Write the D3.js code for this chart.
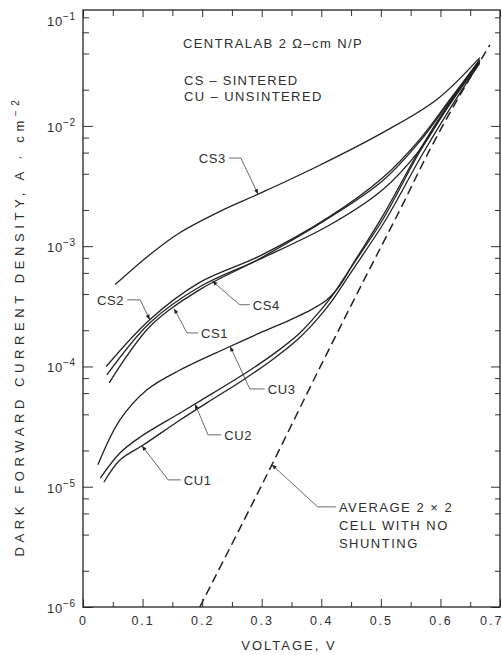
<!DOCTYPE html>
<meta charset="utf-8">
<script src="https://d3js.org/d3.v7.min.js"></script>
<style>
body { margin: 0; background: #fff; }
text { font-family: "Liberation Sans", Arial, sans-serif; fill: #2e2e2e; }
.curve { fill: none; stroke: #222; stroke-width: 1.3px; }
.leader { fill: none; stroke: #444; stroke-width: 0.8px; }
.tick line { stroke: #333; stroke-width: 1px; }
</style>
<div id="chart"></div>
<script>

// voltage (V), current density (A/cm2)
var cs1 = [[0.044,7.3e-5],[0.112,2.14e-4],[0.196,4.35e-4],[0.297,7.9e-4],[0.414,1.73e-3],[0.503,3.5e-3],[0.565,7.4e-3],[0.616,1.62e-2],[0.666,3.5e-2]];
var cs2 = [[0.039,1.0e-4],[0.112,2.45e-4],[0.196,5.0e-4],[0.297,8.3e-4],[0.414,1.76e-3],[0.503,3.7e-3],[0.565,7.7e-3],[0.616,1.66e-2],[0.666,3.55e-2]];
var cs3 = [[0.054,4.8e-4],[0.112,8.5e-4],[0.163,1.3e-3],[0.230,1.95e-3],[0.297,2.75e-3],[0.393,4.6e-3],[0.503,8.8e-3],[0.594,1.66e-2],[0.666,3.7e-2]];
var cs4 = [[0.040,8.5e-5],[0.112,2.3e-4],[0.196,4.6e-4],[0.297,7.8e-4],[0.414,1.5e-3],[0.503,2.95e-3],[0.565,6.3e-3],[0.616,1.55e-2],[0.666,3.4e-2]];
var cu1 = [[0.035,1.09e-5],[0.062,1.67e-5],[0.101,2.22e-5],[0.163,3.59e-5],[0.218,5.36e-5],[0.263,7.4e-5],[0.319,1.15e-4],[0.364,1.74e-4],[0.398,2.63e-4],[0.420,3.63e-4],[0.451,6.17e-4],[0.507,1.62e-3],[0.569,5.73e-3],[0.619,1.47e-2],[0.666,3.33e-2]];
var cu2 = [[0.029,1.18e-5],[0.062,1.91e-5],[0.096,2.59e-5],[0.163,4.1e-5],[0.218,6.0e-5],[0.263,8.2e-5],[0.319,1.26e-4],[0.364,1.9e-4],[0.398,2.9e-4],[0.420,3.98e-4],[0.448,6.46e-4],[0.503,1.66e-3],[0.565,6.07e-3],[0.616,1.52e-2],[0.666,3.4e-2]];
var cu3 = [[0.025,1.52e-5],[0.062,3.59e-5],[0.107,6.37e-5],[0.163,9.35e-5],[0.242,1.43e-4],[0.297,1.9e-4],[0.347,2.43e-4],[0.376,2.84e-4],[0.409,3.57e-4],[0.431,4.7e-4],[0.456,7.5e-4],[0.503,1.78e-3],[0.565,6.31e-3],[0.616,1.58e-2],[0.666,3.53e-2]];
var ideal = [[0.196,1e-6],[0.300,1.03e-5],[0.399,1.01e-4],[0.470,5.04e-4],[0.532,2.0e-3],[0.582,6.31e-3],[0.633,1.81e-2],[0.683,4.71e-2]];

var xTicks = [0, 0.1, 0.2, 0.3, 0.4, 0.5, 0.6, 0.7];
var xMinor = [0.05, 0.15, 0.25, 0.35, 0.45, 0.55, 0.65];
var yDecades = [-6, -5, -4, -3, -2, -1];

// label: text, curve, voltage where the arrow touches, elbow and end of leader
var labels = [
  {text: "CS3", curve: cs3, v: 0.294, elbow: [0.265, 5.4e-3], end: [0.245, 5.4e-3], side: "end"},
  {text: "CS2", curve: cs2, v: 0.112, elbow: [0.096, 3.58e-4], end: [0.074, 3.58e-4], side: "end"},
  {text: "CS1", curve: cs1, v: 0.153, elbow: [0.1745, 1.9e-4], end: [0.193, 1.9e-4], side: "start"},
  {text: "CS4", curve: cs4, v: 0.217, elbow: [0.263, 3.26e-4], end: [0.280, 3.26e-4], side: "start"},
  {text: "CU3", curve: cu3, v: 0.247, elbow: [0.280, 6.5e-5], end: [0.305, 6.5e-5], side: "start"},
  {text: "CU2", curve: cu2, v: 0.188, elbow: [0.210, 2.7e-5], end: [0.232, 2.7e-5], side: "start"},
  {text: "CU1", curve: cu1, v: 0.099, elbow: [0.143, 1.14e-5], end: [0.164, 1.14e-5], side: "start"},
  {text: "AVERAGE 2 \u00d7 2", curve: ideal, v: 0.317, elbow: [0.394, 6.8e-6], end: [0.4245, 6.8e-6], side: "start"}
];
var note = ["CELL WITH NO", "SHUNTING"];

var width = 502, height = 655;

var svg = d3.select("#chart").append("svg")
  .attr("width", width)
  .attr("height", height);

var x = d3.scaleLinear().domain([0, 0.7]).range([83, 500]);
var y = d3.scaleLog().domain([1e-6, 0.092]).range([607, 10]);

var defs = svg.append("defs");
defs.append("marker")
  .attr("id", "arrow")
  .attr("viewBox", "0 0 10 10")
  .attr("refX", 10).attr("refY", 5)
  .attr("markerWidth", 7).attr("markerHeight", 5)
  .attr("markerUnits", "userSpaceOnUse")
  .attr("orient", "auto")
  .append("path")
  .attr("d", "M0,1L10,5L0,9z")
  .attr("fill", "#222");

// minor y ticks (2,4,6,8 in each decade)
var yMajor = yDecades.map(function(e) { return Math.pow(10, e); }).filter(function(v) { return v <= 0.092; });
var yMinorVals = [];
yDecades.forEach(function(e) {
  [2, 4, 6, 8].forEach(function(m) {
    var v = m * Math.pow(10, e);
    if (v <= 0.092) yMinorVals.push(v);
  });
});

// axes with inward ticks
svg.append("g").attr("transform", "translate(83,0)")
  .call(d3.axisLeft(y).tickValues(yMajor).tickSize(-10).tickSizeOuter(0).tickFormat(""));
svg.append("g").attr("transform", "translate(83,0)")
  .call(d3.axisLeft(y).tickValues(yMinorVals).tickSize(-6).tickSizeOuter(0).tickFormat(""));
svg.append("g").attr("transform", "translate(500,0)")
  .call(d3.axisRight(y).tickValues(yMajor).tickSize(-9).tickSizeOuter(0).tickFormat(""));
svg.append("g").attr("transform", "translate(500,0)")
  .call(d3.axisRight(y).tickValues(yMinorVals).tickSize(-5).tickSizeOuter(0).tickFormat(""));

svg.append("g").attr("transform", "translate(0,607)")
  .call(d3.axisBottom(x).tickValues(xTicks).tickSize(-8).tickSizeOuter(0).tickPadding(9)
    .tickFormat(function(d) { return d === 0 ? "0" : d3.format(".1f")(d); }))
  .call(function(g) {
    g.selectAll("text")
      .style("font-size", "12.5px").style("letter-spacing", "2px").attr("fill", "#333")
      .filter(function(d) { return d === 0.7; })
      .attr("text-anchor", "end").attr("dx", 3);
  });
svg.append("g").attr("transform", "translate(0,607)")
  .call(d3.axisBottom(x).tickValues(xMinor).tickSize(-5).tickSizeOuter(0).tickFormat(""));
svg.append("g").attr("transform", "translate(0,10)")
  .call(d3.axisTop(x).tickValues(xTicks).tickSize(-7).tickSizeOuter(0).tickFormat(""));
svg.append("g").attr("transform", "translate(0,10)")
  .call(d3.axisTop(x).tickValues(xMinor).tickSize(-6).tickSizeOuter(0).tickFormat(""));

svg.selectAll(".domain").remove();

// frame
svg.append("rect")
  .attr("x", x(0)).attr("y", y(0.092))
  .attr("width", x(0.7) - x(0)).attr("height", y(1e-6) - y(0.092))
  .attr("fill", "none").attr("stroke", "#222").attr("stroke-width", 1.3);

// y tick labels 10^n
var yLab = svg.append("g").selectAll("text")
  .data(yDecades)
  .enter().append("text")
  .attr("x", 76)
  .attr("y", function(e) { return Math.max(y(Math.pow(10, e)), 20) + 6; })
  .attr("text-anchor", "end")
  .style("font-size", "13px")
  .style("letter-spacing", "0.8px");
yLab.append("tspan").text("10");
yLab.append("tspan").attr("dy", -6).style("font-size", "10px").text(function(e) { return "\u2212" + (-e); });

// curves
var line = d3.line()
  .x(function(d) { return x(d[0]); })
  .y(function(d) { return y(d[1]); })
  .curve(d3.curveCatmullRom.alpha(0.5));

svg.append("g").selectAll("path")
  .data([cs1, cs2, cs3, cs4, cu1, cu2, cu3])
  .enter().append("path")
  .attr("class", "curve")
  .attr("d", line);

svg.append("path")
  .attr("class", "curve")
  .attr("d", line(ideal))
  .style("stroke-dasharray", "9,5")
  .style("stroke-width", 1.5);

// value on a curve at voltage v (log interpolation)
function onCurve(c, v) {
  for (var i = 1; i < c.length; i++) {
    if (v <= c[i][0]) {
      var t = (v - c[i-1][0]) / (c[i][0] - c[i-1][0]);
      return Math.pow(10, Math.log10(c[i-1][1]) + t * (Math.log10(c[i][1]) - Math.log10(c[i-1][1])));
    }
  }
  return c[c.length - 1][1];
}

// leaders with arrows
var lab = svg.append("g").selectAll("g")
  .data(labels)
  .enter().append("g");

lab.append("path")
  .attr("class", "leader")
  .attr("marker-end", "url(#arrow)")
  .attr("d", function(d) {
    var pts = [d.end, d.elbow, [d.v, onCurve(d.curve, d.v)]];
    return d3.line().x(function(p) { return x(p[0]); }).y(function(p) { return y(p[1]); })(pts);
  });

lab.append("text")
  .attr("x", function(d) { return x(d.end[0]) + (d.side === "start" ? 3 : -3); })
  .attr("y", function(d) { return y(d.end[1]) + 5; })
  .attr("text-anchor", function(d) { return d.side; })
  .style("font-size", "13px")
  .style("letter-spacing", function(d) { return d.text.length > 4 ? "1.5px" : "0.6px"; })
  .text(function(d) { return d.text; });

// rest of the ideal-cell note
svg.append("g").selectAll("text")
  .data(note)
  .enter().append("text")
  .attr("x", x(0.4245) + 3)
  .attr("y", function(d, i) { return y(6.8e-6) + 5 + 18 * (i + 1); })
  .style("font-size", "13px")
  .style("letter-spacing", "1.5px")
  .text(function(d) { return d; });

// header notes
svg.append("text").attr("x", 183).attr("y", 48).style("font-size", "13px").style("letter-spacing", "1.4px")
  .text("CENTRALAB 2 \u03a9\u2013cm N/P");
svg.append("text").attr("x", 184).attr("y", 85).style("font-size", "13px").style("letter-spacing", "1.25px")
  .text("CS \u2013 SINTERED");
svg.append("text").attr("x", 184).attr("y", 101).style("font-size", "13px").style("letter-spacing", "1.4px")
  .text("CU \u2013 UNSINTERED");

// axis titles
svg.append("text")
  .attr("x", 289).attr("y", 650)
  .attr("text-anchor", "middle")
  .style("font-size", "13px")
  .style("letter-spacing", "2px")
  .text("VOLTAGE, V");

var yt = svg.append("text")
  .attr("transform", "translate(24,326) rotate(-90)")
  .attr("text-anchor", "middle")
  .style("font-size", "13px")
  .style("letter-spacing", "4.6px");
yt.append("tspan").text("DARK FORWARD CURRENT DENSITY, A \u00b7 cm");
yt.append("tspan").attr("dy", -5).style("font-size", "10px").text("\u22122");

</script>
